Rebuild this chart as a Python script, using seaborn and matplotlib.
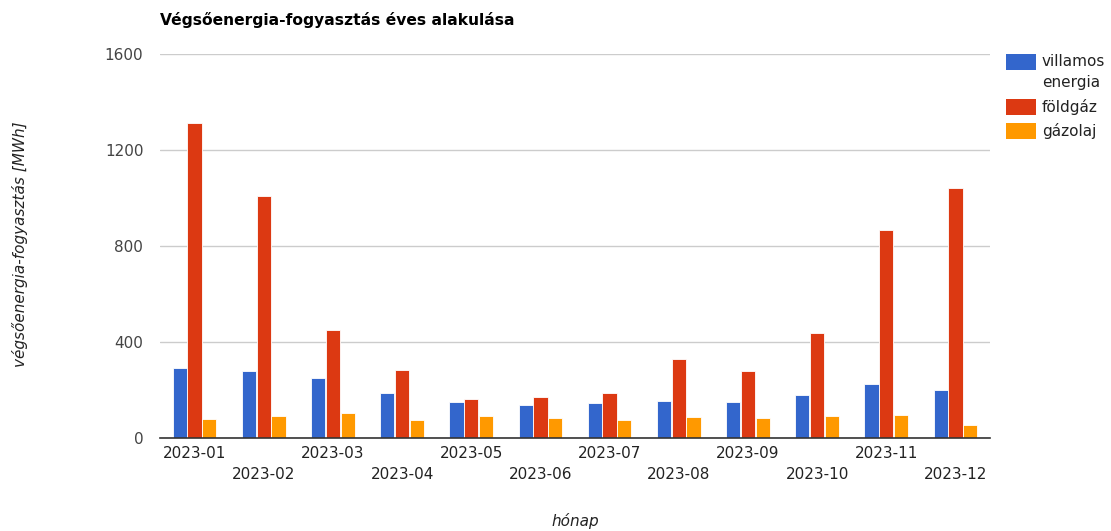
import matplotlib
matplotlib.use("Agg")
import matplotlib.pyplot as plt
from matplotlib.patches import Rectangle
import seaborn as sns
import pandas as pd

months = ["2023-01", "2023-02", "2023-03", "2023-04", "2023-05", "2023-06",
          "2023-07", "2023-08", "2023-09", "2023-10", "2023-11", "2023-12"]
villamos = [292, 278, 249, 188, 149, 138, 145, 154, 149, 179, 224, 200]
foldgaz = [1312, 1007, 449, 282, 161, 171, 188, 330, 279, 438, 868, 1042]
gazolaj = [79, 92, 104, 75, 92, 83, 75, 88, 83, 92, 97, 54]
series_names = ["villamos\nenergia", "földgáz", "gázolaj"]
colors = ["#3366cc", "#dc3912", "#ff9900"]

rows = []
for name, vals in zip(series_names, [villamos, foldgaz, gazolaj]):
    for m, v in zip(months, vals):
        rows.append({"hónap": m, "érték": v, "sorozat": name})
df = pd.DataFrame(rows)

sns.set_style("white")
plt.rcParams["font.family"] = ["DejaVu Sans"]

W, H = 1111, 531
fig = plt.figure(figsize=(W / 100, H / 100), dpi=100)
ax = fig.add_axes([160 / W, 1 - 438 / H, 830 / W, 384 / H])

sns.barplot(data=df, x="hónap", y="érték", hue="sorozat", hue_order=series_names,
            order=months, palette=colors, width=0.64, gap=0.03, ax=ax,
            edgecolor="white", linewidth=0.6, saturation=1, legend=False)

ax.set_ylim(0, 1600)
ax.set_yticks([0, 400, 800, 1200, 1600])
ax.set_yticklabels(["0", "400", "800", "1200", "1600"], fontsize=11, color="#444444")
ax.yaxis.grid(True, color="#cccccc", linewidth=1)
ax.set_axisbelow(True)
ax.set_xlim(-0.5, 11.5)
labels = [m if i % 2 == 0 else "\n" + m for i, m in enumerate(months)]
ax.set_xticks(range(len(months)))
ax.set_xticklabels(labels, fontsize=11, color="#222222", linespacing=1.5)
ax.tick_params(axis="both", length=0, pad=6)
ax.tick_params(axis="y", pad=12)
for s in ["top", "right", "left"]:
    ax.spines[s].set_visible(False)
ax.spines["bottom"].set_color("#333333")
ax.spines["bottom"].set_linewidth(1.2)

ax.set_xlabel("")
ax.set_ylabel("")
fig.text(20 / W, 1 - 244 / H, "végsőenergia-fogyasztás [MWh]", rotation=90,
         ha="center", va="center", fontsize=11, style="italic", color="#222222")
fig.text(575 / W, 1 - 521 / H, "hónap", ha="center", va="center",
         fontsize=11, style="italic", color="#222222")
fig.text(160 / W, 1 - 20 / H, "Végsőenergia-fogyasztás éves alakulása",
         ha="left", va="center", fontsize=11.2, fontweight="bold", color="#000000")

# legend (drawn manually to mimic top-aligned swatch for wrapped label)
leg_centers = [62, 107, 131]
leg_texts = [["villamos", "energia"], ["földgáz"], ["gázolaj"]]
for c, yc, lines in zip(colors, leg_centers, leg_texts):
    fig.patches.append(Rectangle((1006 / W, 1 - (yc + 8) / H), 30 / W, 16 / H,
                                 transform=fig.transFigure, facecolor=c,
                                 edgecolor="none"))
    for k, line in enumerate(lines):
        fig.text(1042 / W, 1 - (yc + k * 21) / H, line, ha="left", va="center",
                 fontsize=11, color="#222222")

fig.savefig("out.png", dpi=100)
